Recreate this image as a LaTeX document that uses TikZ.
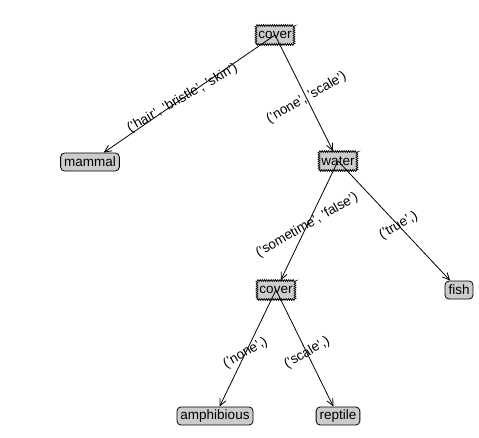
\documentclass[tikz,border=0pt]{standalone}
\usepackage{fontspec}
\setmainfont{Liberation Sans}
\usetikzlibrary{calc,arrows.meta,decorations.pathmorphing}
\definecolor{boxGray}{gray}{0.8}

\begin{document}
\begin{tikzpicture}[x=1pt, y=-1pt, font=\fontsize{13.5}{15}\selectfont,
  decbox/.style={rectangle, fill=boxGray, draw=black, line width=0.7pt,
    inner xsep=2.5pt, inner ysep=2pt, minimum height=19pt,
    decorate, decoration={zigzag, segment length=2.2pt, amplitude=0.9pt}},
  leafbox/.style={rectangle, rounded corners=4pt, fill=boxGray, draw=black,
    line width=0.8pt, inner xsep=3.5pt, inner ysep=2pt, minimum height=18pt},
  elbl/.style={rotate=30, inner sep=0pt},
  earr/.style={-{Straight Barb[length=7pt,width=6.5pt]}, line width=0.8pt}]
  \useasboundingbox (0,0) rectangle (479,437);
  \node[decbox] (cov1) at (275,35) {cover};
  \node[leafbox] (mammal) at (90,162) {mammal};
  \node[decbox] (water) at (338,161) {water};
  \node[decbox] (cov2) at (276,290) {cover};
  \node[leafbox] (fish) at (459,290) {fish};
  \node[leafbox] (amphib) at (215,416) {amphibious};
  \node[leafbox] (reptile) at (338,416) {reptile};
  \draw[earr] (cov1.center) -- (mammal);
  \draw[earr] (cov1.center) -- (water);
  \draw[earr] (water.center) -- (cov2);
  \draw[earr] (water.center) -- (fish);
  \draw[earr] (cov2.center) -- (amphib);
  \draw[earr] (cov2.center) -- (reptile);
  \node[elbl] (l1) at ($(cov1)!.5!(mammal)$) {('hair', 'bristle', 'skin')};
  \node[elbl] (l2) at ($(cov1)!.5!(water)$) {('none', 'scale')};
  \node[elbl] (l3) at ($(water)!.5!(cov2)$) {('sometime', 'false')};
  \node[elbl] (l4) at ($(water)!.5!(fish)$) {('true',)};
  \node[elbl] (l5) at ($(cov2)!.5!(amphib)$) {('none',)};
  \node[elbl] (l6) at ($(cov2)!.5!(reptile)$) {('scale',)};
\end{tikzpicture}
\end{document}
